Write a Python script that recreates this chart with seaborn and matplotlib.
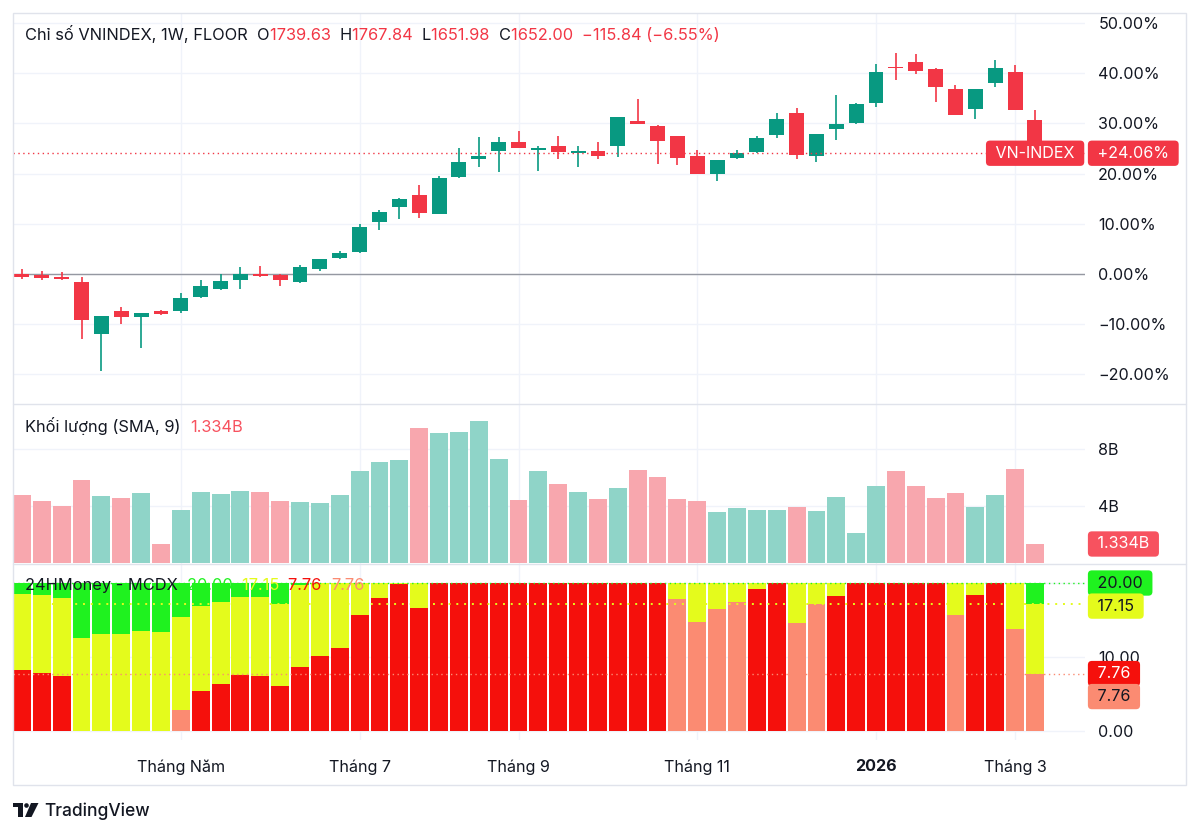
import matplotlib
matplotlib.use("Agg")
import matplotlib.pyplot as plt
import matplotlib.transforms as mtransforms
from matplotlib.patches import Rectangle, Circle, Polygon
from matplotlib.lines import Line2D
import numpy as np
import pandas as pd
import seaborn as sns

# Nen tuan VN-INDEX, tinh theo % so voi tuan dau tien
gia_mo = [0.0, -0.1, -0.6, -1.5, -12.0, -7.4, -8.5, -7.4, -7.4, -4.5,
          -3.0, -1.2, 0.0, -0.2, -1.5, 0.9, 3.1, 4.4, 10.4, 13.3,
          15.7, 12.0, 19.4, 23.0, 24.6, 26.2, 24.7, 25.6, 24.2, 24.6,
          25.6, 30.5, 29.5, 27.4, 23.5, 19.9, 23.2, 24.4, 27.6, 32.0,
          23.5, 28.8, 30.0, 34.0, 41.1, 42.2, 40.8, 36.8, 32.8, 38.0,
          40.2, 30.64]
gia_cao = [1.0, 0.5, 0.3, -0.6, -8.3, -6.5, -7.7, -7.2, -3.8, -1.1,
           0.0, 1.3, 1.5, 0.0, 1.8, 2.9, 4.6, 9.9, 12.7, 15.2,
           17.7, 19.5, 25.2, 27.2, 27.3, 28.5, 25.6, 27.5, 25.5, 26.2,
           31.2, 34.9, 29.6, 27.4, 24.7, 22.7, 24.7, 27.5, 32.1, 33.1,
           27.9, 35.7, 34.1, 41.8, 44.1, 43.8, 41.1, 37.6, 36.9, 42.6,
           41.6, 32.76]
gia_thap = [-1.0, -1.2, -1.1, -13.0, -19.3, -10.0, -14.7, -8.2, -7.8, -4.7,
            -3.2, -3.0, -0.5, -2.3, -1.7, 0.5, 3.0, 4.2, 8.8, 10.9,
            11.1, 12.0, 19.1, 21.4, 20.4, 25.2, 20.6, 23.0, 21.4, 23.0,
            23.4, 29.9, 21.9, 21.7, 19.9, 18.6, 23.0, 24.2, 27.0, 22.9,
            22.4, 26.7, 29.8, 33.3, 38.6, 39.8, 34.3, 31.7, 30.9, 37.2,
            32.7, 24.06]
gia_dong = [-0.5, -0.8, -1.0, -9.2, -8.3, -8.5, -7.7, -8.0, -4.8, -2.3,
            -1.4, 0.0, -0.4, -1.2, 1.3, 2.9, 4.1, 9.4, 12.3, 14.9,
            12.2, 19.1, 22.3, 23.6, 26.2, 25.2, 25.2, 24.4, 24.6, 23.5,
            31.2, 29.9, 26.4, 23.2, 19.9, 22.7, 24.2, 27.0, 30.9, 23.7,
            27.9, 29.9, 33.9, 40.2, 41.0, 40.4, 37.3, 31.7, 36.9, 41.1,
            32.76, 24.06]

# Khoi luong (ty co phieu)
khoi_luong = [4.77, 4.34, 3.99, 5.81, 4.67, 4.58, 4.93, 1.30, 3.75, 5.00,
              4.86, 5.07, 5.00, 4.34, 4.30, 4.22, 4.77, 6.47, 7.10, 7.24,
              9.51, 9.13, 9.18, 10.0, 7.29, 4.44, 6.49, 5.55, 5.00, 4.48,
              5.26, 6.56, 6.07, 4.48, 4.34, 3.59, 3.85, 3.75, 3.75, 3.94,
              3.66, 4.63, 2.08, 5.43, 6.47, 5.43, 4.58, 4.91, 3.92, 4.77,
              6.61, 1.334]

# MCDX: retail (xanh), hot money (vang), banker (do)
mcdx_retail = [20.0, 20.0, 20.0, 20.0, 20.0, 20.0, 20.0, 20.0, 20.0, 20.0,
               20.0, 20.0, 20.0, 20.0, 20.0, 20.0, 20.0, 20.0, 20.0, 20.0,
               20.0, 20.0, 20.0, 20.0, 20.0, 20.0, 20.0, 20.0, 20.0, 20.0,
               20.0, 20.0, 20.0, 20.0, 20.0, 20.0, 20.0, 20.0, 20.0, 20.0,
               20.0, 20.0, 20.0, 20.0, 20.0, 20.0, 20.0, 20.0, 20.0, 20.0,
               20.0, 20.0]
mcdx_hot = [18.48, 18.34, 18.03, 12.62, 13.15, 13.11, 13.51, 13.38, 15.39, 16.87,
            17.40, 18.12, 18.12, 17.22, 19.70, 20.0, 20.0, 20.0, 20.0, 20.0,
            20.0, 20.0, 20.0, 20.0, 20.0, 20.0, 20.0, 20.0, 20.0, 20.0,
            20.0, 20.0, 20.0, 20.0, 20.0, 20.0, 20.0, 20.0, 20.0, 20.0,
            20.0, 20.0, 20.0, 20.0, 20.0, 20.0, 20.0, 20.0, 20.0, 20.0,
            20.0, 17.15]
mcdx_banker = [8.19, 7.83, 7.38, 0.0, 0.0, 0.0, 0.0, 0.0, 2.82, 5.46,
               6.35, 7.61, 7.47, 6.13, 8.68, 10.16, 11.27, 15.66, 17.94, 19.82,
               16.60, 20.0, 20.0, 20.0, 20.0, 20.0, 20.0, 20.0, 20.0, 20.0,
               20.0, 20.0, 20.0, 17.90, 14.76, 16.55, 17.45, 19.24, 20.0, 14.54,
               17.13, 18.21, 20.0, 20.0, 20.0, 20.0, 20.0, 15.70, 18.43, 20.0,
               13.78, 7.76]
banker_loai = ["do", "do", "do", "do", "do", "do", "do", "do", "nhat", "do",
               "do", "do", "do", "do", "do", "do", "do", "do", "do", "do",
               "do", "do", "do", "do", "do", "do", "do", "do", "do", "do",
               "do", "do", "do", "nhat", "nhat", "nhat", "nhat", "do", "do", "nhat",
               "nhat", "do", "do", "do", "do", "do", "do", "nhat", "do", "do",
               "nhat", "nhat"]

# Nhan truc thoi gian
thang_vitri = [8, 17, 25, 34, 43, 50]
thang_nhan = ["Tháng Năm", "Tháng 7", "Tháng 9", "Tháng 11", "2026", "Tháng 3"]

# Mau sac
XANH = "#089981"
DO = "#f23645"
CHU = "#131722"
LUOI = "#f0f3fa"
VIEN = "#e0e3eb"
M_XANH = "#1ff21f"
M_VANG = "#e4fb1c"
M_DO = "#f5100c"
M_NHAT = "#fb8b72"

CO_CHU = 11.8
CO_TRUC = 11.6

sns.set_theme(style="white")
plt.rcParams['font.family'] = ['Inter', 'DejaVu Sans']

W, H = 1200, 834
fig = plt.figure(figsize=(12, 8.34), dpi=100, facecolor="white")
px = mtransforms.IdentityTransform()


def khung(x0, y0, x1, y1):
    return [x0 / W, 1 - y1 / H, (x1 - x0) / W, (y1 - y0) / H]


ax1 = fig.add_axes(khung(13, 13, 1085, 404))
ax2 = fig.add_axes(khung(13, 404, 1085, 564), sharex=ax1)
ax3 = fig.add_axes(khung(13, 564, 1085, 740), sharex=ax1)

tuan = np.arange(len(gia_dong))
o = np.array(gia_mo)
c = np.array(gia_dong)
tang = c >= o
mau_nen = np.where(tang, XANH, DO)

# Luoi nen
for ax in (ax1, ax2, ax3):
    for v in thang_vitri:
        ax.axvline(v, color=LUOI, lw=1, zorder=0)
for v in range(-20, 51, 10):
    ax1.axhline(v, color=LUOI, lw=1, zorder=0)
for v in (4, 8):
    ax2.axhline(v, color=LUOI, lw=1, zorder=0)
for v in (0, 10, 20):
    ax3.axhline(v, color=LUOI, lw=1, zorder=0)

# Bieu do nen
ax1.axhline(0, color="#9598a1", lw=1, zorder=1)
ax1.vlines(tuan, gia_thap, gia_cao, colors=mau_nen, lw=1.2, zorder=2)
ax1.bar(tuan, np.maximum(np.abs(c - o), 0.2), bottom=np.minimum(o, c),
        width=0.75, color=mau_nen, linewidth=0, zorder=3)
ax1.axhline(24.06, color=DO, lw=1, ls=(0, (1, 2.5)), zorder=4)

# Khoi luong
df_kl = pd.DataFrame({"tuan": tuan, "kl": khoi_luong,
                      "chieu": np.where(tang, "tang", "giam")})
sns.barplot(data=df_kl, x="tuan", y="kl", hue="chieu",
            palette={"tang": "#8fd4c8", "giam": "#f8a7ae"},
            native_scale=True, width=0.9, dodge=False, legend=False,
            errorbar=None, saturation=1, linewidth=0, ax=ax2)

# MCDX
df_m = pd.DataFrame({"tuan": tuan, "retail": mcdx_retail, "hot": mcdx_hot,
                     "banker": mcdx_banker, "loai": banker_loai})
sns.barplot(data=df_m, x="tuan", y="retail", color=M_XANH, native_scale=True,
            width=0.9, errorbar=None, saturation=1, linewidth=0, ax=ax3)
sns.barplot(data=df_m, x="tuan", y="hot", color=M_VANG, native_scale=True,
            width=0.9, errorbar=None, saturation=1, linewidth=0, ax=ax3)
sns.barplot(data=df_m, x="tuan", y="banker", hue="loai",
            palette={"do": M_DO, "nhat": M_NHAT}, native_scale=True,
            width=0.9, dodge=False, legend=False, errorbar=None,
            saturation=1, linewidth=0, ax=ax3)
ax3.axhline(20, color=M_XANH, lw=1, ls=(0, (1, 2.5)), zorder=4)
ax3.axhline(17.15, color=M_VANG, lw=1.4, ls=(0, (1, 3)), zorder=4)
ax3.axhline(7.76, color=M_NHAT, lw=1, ls=(0, (1, 2.5)), zorder=4)

# Truc
ax1.set_xlim(-0.45, 53.52)
ax1.set_ylim(-25.9, 52.0)
ax2.set_ylim(-0.07, 11.16)
ax3.set_ylim(-1.22, 22.57)

for ax in (ax1, ax2, ax3):
    ax.set_xlabel("")
    ax.set_ylabel("")
    ax.set_facecolor("none")
    for s in ax.spines.values():
        s.set_visible(False)
    ax.yaxis.tick_right()
    ax.tick_params(axis="y", length=0, pad=9.5, labelsize=CO_TRUC, labelcolor=CHU)
    ax.tick_params(axis="x", length=0)

ax1.set_yticks(range(-20, 51, 10))
ax1.set_yticklabels([f"{v:.2f}%".replace("-", "−") for v in range(-20, 51, 10)])
ax2.set_yticks([4, 8])
ax2.set_yticklabels(["4B", "8B"])
ax3.set_yticks([0, 10])
ax3.set_yticklabels(["0.00", "10.00"])

ax1.tick_params(axis="x", labelbottom=False)
ax2.tick_params(axis="x", labelbottom=False)
ax3.set_xticks(thang_vitri)
ax3.set_xticklabels(thang_nhan)
ax3.tick_params(axis="x", pad=14, labelsize=CO_TRUC, labelcolor=CHU)
ax3.get_xticklabels()[4].set_fontweight("bold")
ax1.set_xlim(-0.45, 53.52)

# Nhan gia ben phai
hop = dict(boxstyle="round,pad=0.32,rounding_size=0.25", ec="none")
ben_phai = mtransforms.blended_transform_factory(ax1.transAxes, ax1.transData)
ax1.text(0.9945, 24.06, " VN-INDEX ", transform=ben_phai, ha="right", va="center",
         color="white", fontsize=CO_TRUC, zorder=6, bbox=dict(hop, fc=DO))
ax1.text(1.0075, 24.06, " +24.06% ", transform=ben_phai, ha="left", va="center",
         color="white", fontsize=CO_TRUC, zorder=6, clip_on=False,
         bbox=dict(hop, fc=DO))

ben_phai2 = mtransforms.blended_transform_factory(ax2.transAxes, ax2.transData)
ax2.text(1.0075, 1.334, " 1.334B ", transform=ben_phai2, ha="left", va="center",
         color="white", fontsize=CO_TRUC, zorder=6, clip_on=False,
         bbox=dict(hop, fc="#f7525f"))

ben_phai3 = mtransforms.blended_transform_factory(ax3.transAxes, ax3.transData)
for gia_tri, nen, chu, dy in [(20.0, M_XANH, CHU, 0), (17.15, M_VANG, CHU, -2),
                              (7.76, M_DO, "white", 0), (7.76, M_NHAT, CHU, -23)]:
    ax3.annotate(f" {gia_tri:.2f} ", xy=(1.0075, gia_tri), xycoords=ben_phai3,
                 xytext=(0, dy), textcoords="offset pixels", ha="left", va="center",
                 color=chu, fontsize=CO_TRUC, zorder=6, annotation_clip=False,
                 bbox=dict(hop, fc=nen))


# Tieu de nhieu mau
def viet_chuoi(x_px, y_px, cac_doan, co_chu):
    r = fig.canvas.get_renderer()
    x = x_px
    for chu, mau in cac_doan:
        t = fig.text(x, H - y_px, chu, color=mau, fontsize=co_chu, va="baseline",
                     ha="left", transform=px, zorder=10)
        x += t.get_window_extent(renderer=r).width


viet_chuoi(25, 40, [("Chỉ số VNINDEX, 1W, FLOOR  ", CHU), ("O", CHU), ("1739.63  ", DO),
                    ("H", CHU), ("1767.84  ", DO), ("L", CHU), ("1651.98  ", DO),
                    ("C", CHU), ("1652.00  ", DO), ("−115.84 (−6.55%)", DO)], CO_CHU)
viet_chuoi(25, 432, [("Khối lượng (SMA, 9)  ", CHU), ("1.334B", "#f7525f")], CO_CHU)
viet_chuoi(25, 590, [("24HMoney - MCDX  ", CHU), ("20.00  ", M_XANH), ("17.15  ", M_VANG),
                     ("7.76  ", M_DO), ("7.76", M_NHAT)], CO_CHU)

# Khung va duong phan cach
fig.add_artist(Rectangle((13, H - 785), 1173, 772, fill=False, ec=VIEN, lw=1, transform=px))
for y in (404, 564):
    fig.add_artist(Line2D([13, 1186], [H - y, H - y], color=VIEN, lw=1, transform=px))

# Logo TradingView
fig.add_artist(Rectangle((13, H - 807), 10, 4, fc=CHU, ec="none", transform=px))
fig.add_artist(Rectangle((18, H - 817), 5, 14, fc=CHU, ec="none", transform=px))
fig.add_artist(Circle((26.5, H - 805.5), 2.3, fc=CHU, ec="none", transform=px))
fig.add_artist(Polygon([(31, H - 803), (38.5, H - 803), (31.5, H - 817), (25, H - 817)],
                       closed=True, fc=CHU, ec="none", transform=px))
fig.text(44, H - 816, "TradingView", color=CHU, fontsize=12.5, fontweight="medium",
         ha="left", va="baseline", transform=px)

fig.savefig("out.png", dpi=100, facecolor="white")
